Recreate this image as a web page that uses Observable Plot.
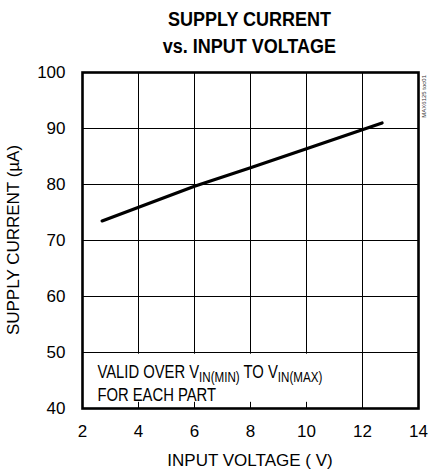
<!DOCTYPE html>
<html>
<head>
<meta charset="utf-8">
<script src="https://cdn.jsdelivr.net/npm/d3@7"></script>
<script src="https://cdn.jsdelivr.net/npm/@observablehq/plot@0.6"></script>
<style>
  html, body { margin: 0; padding: 0; background: #fff; }
  #wrap { width: 429px; height: 469px; position: relative; font-family: "Liberation Sans", Arial, sans-serif; }
  #title { height: 60px; text-align: center; font-weight: bold; font-size: 20px; line-height: 27px; padding-top: 6px; box-sizing: border-box; padding-left: 70px; }
  #title span { display: inline-block; transform: scaleX(0.9); }
  svg { display: block; }
</style>
</head>
<body>
<div id="wrap">
  <div id="title"><span>SUPPLY CURRENT</span><br><span>vs. INPUT VOLTAGE</span></div>
  <div id="chart"></div>
</div>
<script>
const voltage = [2.7, 6, 8, 10, 12.7];
const current = [73.5, 79.7, 83.0, 86.4, 91.0];
const xTicks = [2, 4, 6, 8, 10, 12, 14];
const yTicks = [40, 50, 60, 70, 80, 90, 100];
const xLabel = "INPUT VOLTAGE ( V)";
const yLabel = "SUPPLY CURRENT (µA)";
const noteLine2 = "FOR EACH PART";
const figId = "MAX6125 toc01";

const data = voltage.map((v, i) => ({v, c: current[i]}));
const font = `"Liberation Sans", Arial, sans-serif`;

const plot = Plot.plot({
  width: 429,
  height: 409,
  marginLeft: 82,
  marginRight: 11,
  marginTop: 12,
  marginBottom: 61,
  style: {fontFamily: font, fontSize: "16px", color: "black", background: "white", overflow: "visible"},
  x: {domain: [2, 14], ticks: xTicks, label: null},
  y: {domain: [40, 100], ticks: yTicks, label: null},
  marks: [
    Plot.ruleX(xTicks, {stroke: "black", strokeWidth: 1}),
    Plot.ruleY(yTicks, {stroke: "black", strokeWidth: 1}),
    Plot.rect([{}], {x1: 2, x2: 11.3, y1: 40, y2: 49.7, fill: "white"}),
    Plot.ruleX(xTicks, {y1: 40, y2: 41.1, stroke: "black", strokeWidth: 1}),
    Plot.line(data, {x: "v", y: "c", stroke: "black", strokeWidth: 3.2}),
    Plot.frame({stroke: "black", strokeWidth: 2.6}),
    Plot.axisX(xTicks, {tickSize: 0, tickPadding: 16, fontSize: 17}),
    Plot.axisY(yTicks, {tickSize: 0, tickPadding: 17, fontSize: 17})
  ]
});
document.getElementById("chart").appendChild(plot);

const svg = d3.select(plot);
const sx = plot.scale("x"), sy = plot.scale("y");
const pLeft = sx.apply(2), pRight = sx.apply(14), pTop = sy.apply(100), pBottom = sy.apply(40);

// axis titles
svg.append("text").attr("x", (pLeft + pRight) / 2).attr("y", 406)
  .attr("text-anchor", "middle").attr("font-size", 17).attr("font-family", font).text(xLabel);
svg.append("text").attr("transform", `translate(19,${(pTop + pBottom) / 2}) rotate(-90)`)
  .attr("text-anchor", "middle").attr("font-size", 17).attr("font-family", font).text(yLabel);
// figure id
svg.append("text").attr("transform", `translate(426,${pTop + 3}) rotate(-90)`)
  .attr("text-anchor", "end").attr("font-size", 6).attr("fill", "#333").attr("font-family", font).text(figId);

// annotation with subscripts (narrowed to match condensed face)
const x0 = sx.apply(2.55);
const g = svg.append("g").attr("transform", `translate(${x0},0) scale(0.8,1)`)
  .attr("font-family", font).attr("text-anchor", "start");
const t1 = g.append("text").attr("x", 0).attr("y", sy.apply(45.35)).attr("font-size", 18.5);
t1.append("tspan").text("VALID OVER V");
t1.append("tspan").attr("dy", 4).attr("font-size", 14.5).text("IN(MIN)");
t1.append("tspan").attr("dy", -4).text(" TO V");
t1.append("tspan").attr("dy", 4).attr("font-size", 14.5).text("IN(MAX)");
g.append("text").attr("x", 0).attr("y", sy.apply(41.25)).attr("font-size", 18.5).text(noteLine2);
</script>
</body>
</html>
